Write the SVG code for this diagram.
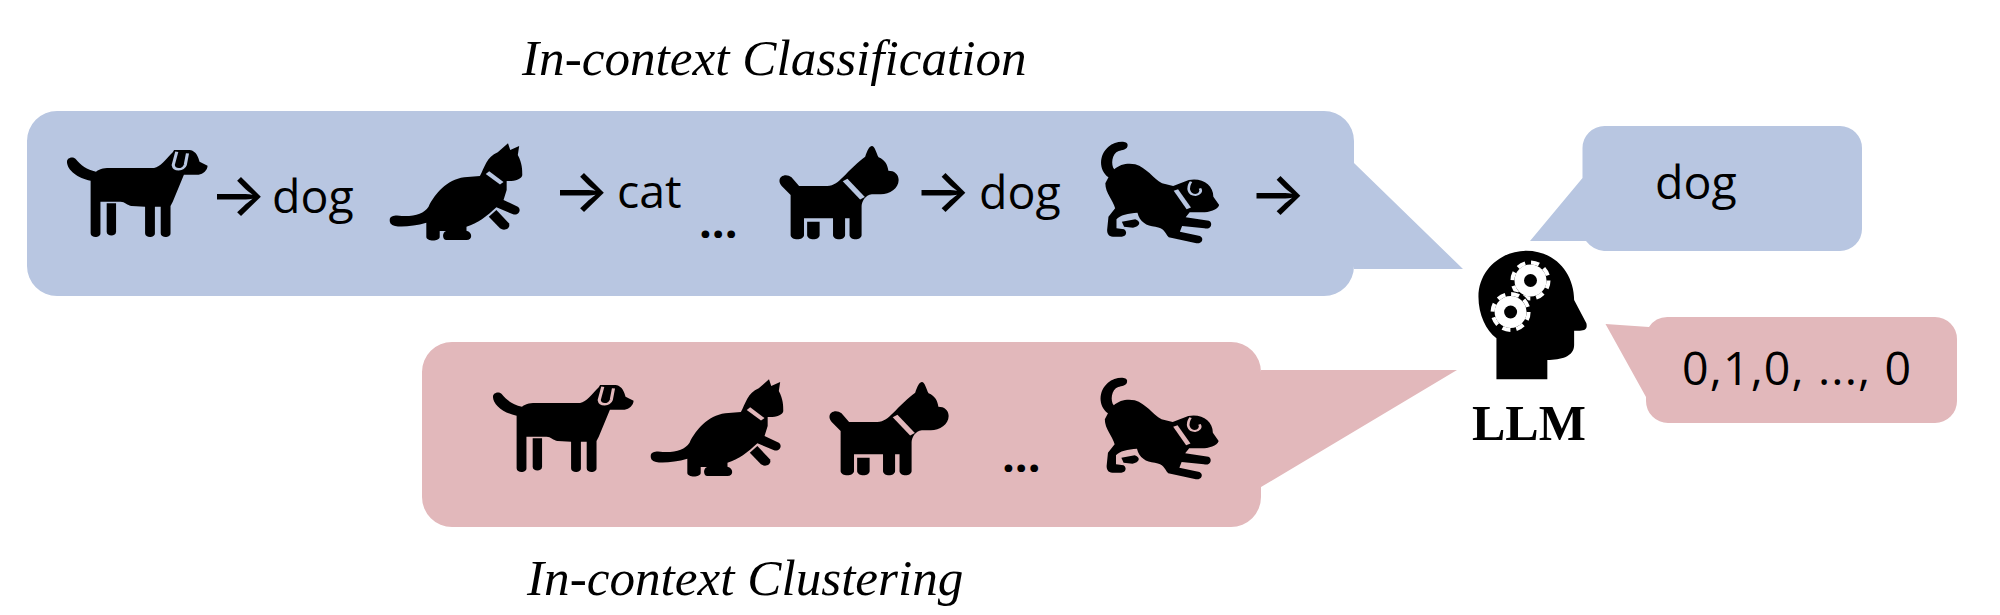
<svg xmlns="http://www.w3.org/2000/svg" width="2000" height="615" viewBox="0 0 2000 615">
<style>
.blue{fill:#b8c6e1}
.pink{fill:#e2b8bb}
.t{font-family:"Open Sans","Noto Sans",sans-serif;font-size:46.5px;font-weight:500;fill:#000}
.d{font-weight:700;font-size:45px}
.a{font-family:"Inter","DejaVu Sans",sans-serif;font-size:60px;font-weight:500;fill:#000}
.title{font-family:"Liberation Serif",serif;font-style:italic;font-size:51.2px;fill:#000}
.cut{fill:none;stroke:currentColor;stroke-linecap:butt}
</style>
<defs>
<g id="dog1" transform="translate(0,100) scale(.4464,.3333)">
<path d="M150,185C150,172 165,168 170,178C180,195 195,210 215,215C225,205 235,204 250,204L345,204C360,200 370,180 387,157L390,150L425,150C440,152 445,175 447,185L465,197C465,210 455,222 445,224L412,224L387,305L382,318L382,400C382,415 360,415 360,400L360,320L347,320L347,400C347,415 325,415 325,400L325,320L295,318C285,316 280,305 270,305L225,305L225,400C225,415 203,415 203,400L203,242C175,235 150,210 150,185Z"/>
<path d="M239,310L260,310L260,395C260,410 239,410 239,395Z"/>
<path class="cut" stroke-width="7" d="M396,155L388,195C390,212 410,212 415,195L420,160"/>
</g>
<g id="cat" transform="translate(0,100) scale(.4464,.3333)">
<path d="M873,360C873,345 890,345 900,348C930,350 950,340 960,320C975,280 1000,240 1040,232L1075,228C1085,205 1090,170 1115,157L1138,130L1143,150L1163,138L1160,165C1170,190 1170,210 1170,225C1170,238 1150,245 1135,243L1135,270L1128,300L1160,320C1170,330 1160,350 1148,342L1112,322C1090,350 1070,370 1045,380L1045,392C1058,395 1060,420 1045,420L1000,420C990,420 990,395 1000,393L985,393L985,410C985,425 955,425 955,410L955,368C930,378 900,382 885,378C875,375 873,368 873,360Z"/>
<path d="M1112,330L1140,370C1145,385 1130,395 1120,385L1095,350Z"/>
<path class="cut" stroke-width="11" d="M1092,218L1124,250"/>
</g>
<g id="dogB" transform="translate(700,100) scale(.4464,.3333)">
<path d="M178,243C178,225 195,220 205,232L222,258L285,258C300,258 310,245 320,232C335,210 355,185 370,170C375,150 380,138 385,138C392,138 395,160 400,172C415,180 420,195 422,212C435,212 445,222 445,240C445,265 425,283 405,283L385,283C370,285 362,305 362,320L362,405C362,422 335,422 335,405L335,355L325,355L325,405C325,422 298,422 298,405L298,355L233,355L233,405C233,422 203,422 203,405L203,285L183,258C180,253 178,248 178,243Z"/>
<path d="M240,365L268,365L268,405C268,422 240,422 240,405Z"/>
<path class="cut" stroke-width="13" d="M325,240L364,295"/>
</g>
<g id="gear">
<circle r="16" fill="#fff"/>
<circle r="18" fill="none" stroke="#fff" stroke-width="4" stroke-dasharray="8.2 5.94"/>
<circle r="6.500" fill="#000"/>
</g>
<g id="dogC" transform="translate(700,100) scale(.4464,.3333)">
<path d="M958,135C958,150 945,150 938,153C922,160 920,195 928,208C940,192 960,188 975,193C1000,203 1015,235 1035,250L1060,258L1095,240C1125,232 1150,255 1150,290L1163,315C1160,330 1140,337 1125,337L1097,337L1088,352L1140,362C1150,368 1145,390 1130,385L1080,378L1075,395L1120,408C1130,415 1125,432 1112,430L1050,412C1040,395 1040,385 1020,380C1000,378 985,365 980,338C960,340 940,345 933,358L933,385L950,388C958,395 955,410 945,410L925,410C915,410 912,400 912,390L915,350L930,325C925,300 908,280 908,250L915,232C893,210 893,165 915,140C930,122 958,120 958,135Z"/>
<path d="M945,365L975,358C990,365 985,380 970,383L950,380Z"/>
<path class="cut" stroke-width="11" d="M1066,270L1095,325"/>
<path class="cut" stroke-width="6" d="M1100,245C1090,265 1095,285 1110,285C1118,283 1125,275 1120,265"/>
</g>
</defs>

<g id="bubble-classification">
<path class="blue" d="M57,111H1324A30,30 0 0 1 1354,141V163L1463,269H1354V266A30,30 0 0 1 1324,296H57A30,30 0 0 1 27,266V141A30,30 0 0 1 57,111Z"/>
</g>
<g id="bubble-clustering">
<path class="pink" d="M452,342H1231A30,30 0 0 1 1261,372V370H1457L1261,487V497A30,30 0 0 1 1231,527H452A30,30 0 0 1 422,497V372A30,30 0 0 1 452,342Z"/>
</g>
<g id="bubble-output-dog">
<path class="blue" d="M1604.500,126H1840A22,22 0 0 1 1862,148V229A22,22 0 0 1 1840,251H1604A26,26 0 0 1 1586,241H1530L1582.500,178V148A22,22 0 0 1 1604.500,126Z"/>
<text class="t" x="1655" y="199">dog</text>
</g>
<g id="bubble-output-bits">
<path class="pink" d="M1668,317H1935A22,22 0 0 1 1957,339V401A22,22 0 0 1 1935,423H1668A22,22 0 0 1 1646,401V397L1605.500,324L1649,327A22,22 0 0 1 1668,317Z"/>
<text class="t" x="1682" y="385" textLength="229">0,1,0, ..., 0</text>
</g>

<g id="row-classification">
<g id="c-dog1" color="#b8c6e1"><use href="#dog1"/></g>
<text class="a" x="209.500" y="216">→</text>
<text class="t" x="272" y="213">dog</text>
<g id="c-cat" color="#b8c6e1"><use href="#cat"/></g>
<text class="a" x="552.500" y="212">→</text>
<text class="t" x="617" y="208">cat</text>
<text class="t d" x="699" y="238">...</text>
<g id="c-dog2" color="#b8c6e1"><use href="#dogB"/></g>
<text class="a" x="914" y="212">→</text>
<text class="t" x="979" y="209">dog</text>
<g id="c-dog3" color="#b8c6e1"><use href="#dogC"/></g>
<text class="a" x="1249" y="215">→</text>
</g>

<g id="row-clustering">
<g id="k-dog1" color="#e2b8bb" transform="translate(426,235)"><use href="#dog1"/></g>
<g id="k-cat" color="#e2b8bb" transform="translate(261,236)"><use href="#cat"/></g>
<g id="k-dog2" color="#e2b8bb" transform="translate(50,236)"><use href="#dogB"/></g>
<text class="t d" x="1002" y="472">...</text>
<g id="k-dog3" color="#e2b8bb" transform="translate(-0.5,236)"><use href="#dogC"/></g>
</g>

<g id="llm">
<path transform="translate(1400,100) scale(.3827,.3333)" d="M252,838L252,715C225,690 205,645 205,590C205,510 265,452 330,452C405,452 455,520 455,600L487,670C490,685 485,692 470,692L455,692L455,735C455,770 420,780 385,780L385,838Z"/>
<use href="#gear" transform="translate(1530.500,280.500)"/>
<circle cx="1510.600" cy="312" r="21" fill="#000"/>
<use href="#gear" transform="translate(1510.600,312)"/>
<text x="1472" y="440" style="font-family:'Liberation Serif',serif;font-weight:bold;font-size:50px">LLM</text>
</g>

<g id="titles">
<text class="title" x="522" y="75">In-context Classification</text>
<text class="title" x="527" y="595">In-context Clustering</text>
</g>
</svg>
